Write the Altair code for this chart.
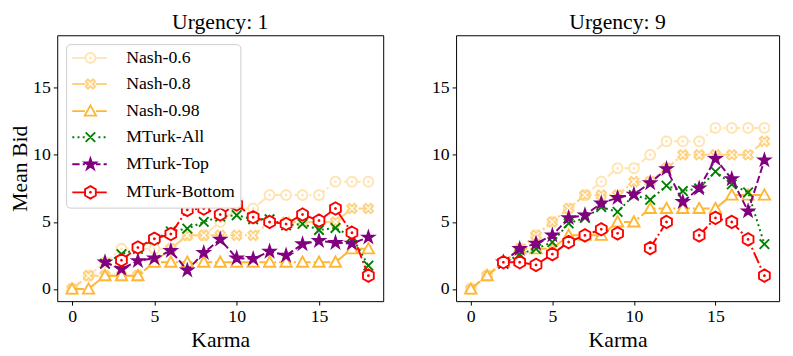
import math
import altair as alt
import pandas as pd

# ---------------- data ----------------
karma = list(range(19))
series_names = ["Nash-0.6", "Nash-0.8", "Nash-0.98", "MTurk-All", "MTurk-Top", "MTurk-Bottom"]

u1_nash06 = [0, 1, 2, 3, 3, 3, 3, 4, 4, 5, 6, 6, 7, 7, 7, 7, 8, 8, 8]
u1_nash08 = [0, 1, 1, 1, 1, 2, 3, 4, 4, 4, 4, 4, 5, 5, 5, 5, 5, 6, 6]
u1_nash098 = [0, 0, 1, 1, 1, 2, 2, 2, 2, 2, 2, 2, 2, 2, 2, 2, 2, 3, 3]
u1_all = [None, None, 1.9, 2.6, 3.0, 3.7, 4.3, 4.5, 5.0, 5.4, 5.5, 5.2, 5.2, 4.75, 4.85, 4.4, 4.55, 3.9, 1.75]
u1_top = [None, None, 2.0, 1.5, 2.1, 2.3, 2.85, 1.4, 2.7, 3.7, 2.3, 2.25, 2.8, 2.5, 3.35, 3.6, 3.45, 3.4, 3.85]
u1_bottom = [None, None, None, 2.15, 3.1, 3.75, 4.1, 5.9, 6.0, 5.55, 6.3, 5.35, 5.0, 4.85, 5.55, 5.1, 6.0, 4.2, 1.0]

u9_nash06 = [0, 1, 2, 3, 4, 5, 6, 7, 8, 9, 9, 10, 11, 11, 11, 12, 12, 12, 12]
u9_nash08 = [0, 1, 2, 3, 4, 5, 6, 7, 7, 7, 8, 8, 9, 10, 10, 10, 10, 10, 11]
u9_nash098 = [0, 1, 2, 3, 3, 3, 4, 4, 4, 5, 5, 6, 6, 6, 6, 6, 7, 7, 7]
u9_all = [None, None, 1.9, 2.6, 3.0, 3.5, 4.9, 5.3, 6.1, 5.75, 7.0, 6.65, 7.7, 7.3, 7.5, 8.75, 7.8, 7.2, 3.35]
u9_top = [None, None, 2.0, 3.0, 3.4, 4.0, 5.3, 5.5, 6.4, 6.8, 7.05, 7.9, 8.95, 6.5, 7.5, 9.7, 8.2, 5.8, 9.6]
u9_bottom = [None, None, 2.0, 2.0, 1.8, 2.6, 3.5, 4.0, 4.45, 4.15, None, 3.05, 5.0, None, 4.0, 5.3, 5.0, 3.7, 1.0]

panel_titles = ["Urgency: 1", "Urgency: 9"]
panel_series = [
    [u1_nash06, u1_nash08, u1_nash098, u1_all, u1_top, u1_bottom],
    [u9_nash06, u9_nash08, u9_nash098, u9_all, u9_top, u9_bottom],
]

# ---------------- styles ----------------
FONT = "Liberation Serif"
line_colors = ["#FFE4B2", "#FFD280", "#FFB733", "#008000", "#800080", "#FF0000"]
marker_fills = ["#FFFFFF", "#FFFFFF", "#FFFFFF", "#FFFFFF", "#800080", "#FFFFFF"]
line_dashes = [[12, 3, 2, 3], [12, 3, 2, 3], [12, 3, 2, 3], [2, 3.3], [7.4, 3.2], [12, 3, 2, 3]]
legend_dashes = [None, None, None, [2, 3.3], [7.4, 3.2], None]
marker_kinds = ["circle", "xfilled", "tri", "x", "star", "hex"]
marker_scale = [0.91, 1.0, 1.05, 1.1, 1.08, 1.15]
MARKER_SIZE = 121  # 1 path unit = 5.5 px
UNIT = math.sqrt(MARKER_SIZE) / 2


def poly(n, r, start=-math.pi / 2, inner=None):
    pts = []
    for i in range(n):
        a = start + i * 2 * math.pi / n
        pts.append((r * math.cos(a), r * math.sin(a)))
        if inner is not None:
            a2 = a + math.pi / n
            pts.append((inner * math.cos(a2), inner * math.sin(a2)))
    return pts


def geom(kind):
    if kind == "circle":
        return [(True, poly(32, 1.0)), (True, poly(8, 0.08))]
    if kind == "hex":
        return [(True, poly(6, 1.0)), (True, poly(8, 0.07))]
    if kind == "star":
        return [(True, poly(5, 1.0, inner=0.382))]
    if kind == "tri":
        return [(True, [(0, -1), (1, 0.8), (-1, 0.8)])]
    if kind == "x":
        return [(False, [(-0.8, -0.8), (0.8, 0.8)]), (False, [(-0.8, 0.8), (0.8, -0.8)])]
    if kind == "xfilled":
        a = 0.3
        plus = [(a, 1), (a, a), (1, a), (1, -a), (a, -a), (a, -1), (-a, -1), (-a, -a),
                (-1, -a), (-1, a), (-a, a), (-a, 1)]
        c = 1 / math.sqrt(2)
        return [(True, [((x - y) * c * 0.95, (x + y) * c * 0.95) for x, y in plus])]
    return []


def to_path(subpaths, k=1.0, dx=0.0):
    out = []
    for closed, pts in subpaths:
        s = "M" + "L".join(f"{x * k + dx:.3f},{y * k:.3f}" for x, y in pts)
        if closed:
            s += "Z"
        out.append(s)
    return "".join(out)


def dash_segments(x0, x1, pattern):
    if pattern is None:
        return [(x0, x1)]
    pat = [p / UNIT for p in pattern]
    segs, pos, i = [], x0, 0
    while pos < x1:
        end = min(pos + pat[i % len(pat)], x1)
        if i % 2 == 0:
            segs.append((pos, end))
        pos += pat[i % len(pat)]
        i += 1
    return segs


GX0 = -1.4
GX1 = GX0 + 35 / UNIT
GCX = GX0 + 18.4 / UNIT


def legend_glyph(idx):
    k = marker_scale[idx]
    mk = geom(marker_kinds[idx])
    lo, hi = GCX - k * 0.95, GCX + k * 0.95
    segs = []
    for a, b in dash_segments(GX0, GX1, legend_dashes[idx]):
        if b <= lo or a >= hi:
            segs.append((a, b))
        else:
            if a < lo:
                segs.append((a, lo))
            if b > hi:
                segs.append((hi, b))
    stubs = "".join(f"M{a:.3f},0L{b:.3f},0" for a, b in segs if b - a > 0.01)
    return stubs + to_path(mk, k, GCX)


plot_shapes = [to_path(geom(marker_kinds[i]), marker_scale[i]) for i in range(6)]
legend_shapes = [legend_glyph(i) for i in range(6)]

xscale = alt.Scale(domain=[-0.9, 18.9], nice=False, zero=False)
yscale = alt.Scale(domain=[-0.9, 18.9], nice=False, zero=False)


def series_frame(vals):
    rows, seg = [], 0
    for k, v in zip(karma, vals):
        if v is None:
            seg += 1
            continue
        rows.append({"karma": k, "bid": v, "seg": seg})
    return pd.DataFrame(rows)


def make_panel(p):
    ytitle = "Mean Bid" if p == 0 else None
    X = alt.X("karma:Q", scale=xscale,
              axis=alt.Axis(values=[0, 5, 10, 15], title="Karma"))
    Y = alt.Y("bid:Q", scale=yscale,
              axis=alt.Axis(values=[0, 5, 10, 15], title=ytitle, titlePadding=1) if ytitle else
              alt.Axis(values=[0, 5, 10, 15], title=None))
    layers = []
    for i, name in enumerate(series_names):
        df = series_frame(panel_series[p][i])
        base = alt.Chart(df)
        layers.append(
            base.mark_line(color=line_colors[i], strokeDash=line_dashes[i], strokeWidth=2)
            .encode(x=X, y=Y, detail="seg:N")
        )
        layers.append(
            base.mark_point(shape=plot_shapes[i], size=MARKER_SIZE, filled=True,
                            fill=marker_fills[i], stroke=line_colors[i],
                            strokeWidth=1.9, opacity=1)
            .encode(x=X, y=Y)
        )
    if p == 0:
        leg_df = pd.DataFrame({"series": series_names, "karma": karma[:6], "bid": [0] * 6})
        lg = alt.Legend(title=None, orient="top-left", offset=9, padding=5,
                        symbolSize=MARKER_SIZE, symbolStrokeWidth=1.9,
                        labelOffset=38, rowPadding=8.5, labelFontSize=18,
                        labelFont=FONT, labelColor="black", labelLimit=300,
                        fillColor="white", strokeColor="#cccccc", cornerRadius=4)
        layers.append(
            alt.Chart(leg_df).transform_filter("false")
            .mark_point(size=MARKER_SIZE, filled=True, strokeWidth=1.9, opacity=1)
            .encode(
                x=X, y=Y,
                stroke=alt.Stroke("series:N", scale=alt.Scale(domain=series_names, range=line_colors), legend=lg),
                fill=alt.Fill("series:N", scale=alt.Scale(domain=series_names, range=marker_fills), legend=lg),
                shape=alt.Shape("series:N", scale=alt.Scale(domain=series_names, range=legend_shapes), legend=lg),
            )
        )
    return alt.layer(*layers).properties(
        width=331 if p == 0 else 328, height=270,
        title=alt.TitleParams(panel_titles[p], offset=1),
    )


chart = (
    alt.hconcat(make_panel(0), make_panel(1), spacing=47)
    .resolve_scale(stroke="independent", fill="independent", shape="independent")
    .configure_view(stroke="black", strokeWidth=1)
    .configure_axis(domain=False, grid=False, labelFont=FONT, labelFontSize=18,
                    labelColor="black", tickColor="black", tickSize=4, tickWidth=1,
                    titleFont=FONT, titleFontSize=22, titleFontWeight="normal",
                    titleColor="black", labelPadding=3)
    .configure_title(font=FONT, fontSize=22, fontWeight="normal", color="black")
    .properties(background="white", padding={"left": 0, "top": 0, "right": 5, "bottom": 2})
)

chart.save("out.html", embed_options={"renderer": "svg", "actions": False})
